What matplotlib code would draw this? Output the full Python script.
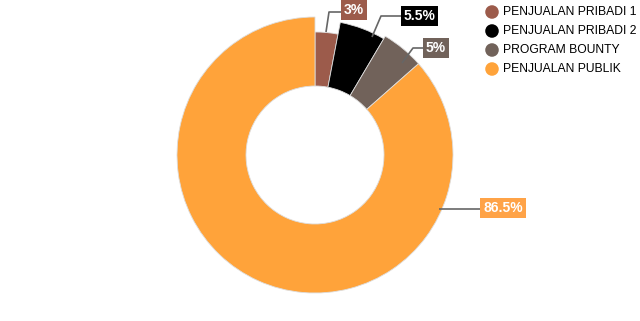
import matplotlib
matplotlib.use("Agg")
import matplotlib.pyplot as plt

plt.rcParams['font.family'] = ['Liberation Sans', 'DejaVu Sans']

categories = ['PENJUALAN PRIBADI 1', 'PENJUALAN PRIBADI 2', 'PROGRAM BOUNTY', 'PENJUALAN PUBLIK']
values = [3, 5.5, 5, 86.5]
labels = ['3%', '5.5%', '5%', '86.5%']
colors = ['#9c5b4b', '#000000', '#71625a', '#ffa33a']
label_colors = ['#9c5b4b', '#000000', '#71625a', '#ffa347']

W, H = 640, 321
def Y(py):
    return H - py

fig = plt.figure(figsize=(6.4, 3.21), dpi=100)
ax = fig.add_axes([0, 0, 1, 1])

cx, cy, R, r_in = 315, Y(155), 138, 69
wedges, _ = ax.pie(values, colors=colors, radius=R, center=(cx, cy),
                   startangle=90, counterclock=False,
                   wedgeprops=dict(width=R - r_in, edgecolor='#dddddd', linewidth=0.6))
# slices drawn with slightly different outer radius, as in the original
outer = [123, 135, 138, 138]
for w, ro in zip(wedges, outer):
    w.set_radius(ro)
    w.set_width(ro - r_in)

ax.set_xlim(0, W)
ax.set_ylim(0, H)
ax.set_aspect('equal')
ax.axis('off')

# leader lines: (start, elbow, end) and label centres
leaders = [
    [(326, 32), (329, 12), (343, 12)],
    [(372, 37), (381, 16), (403, 16)],
    [(402, 63), (413, 48), (425, 48)],
    [(439, 209), (461, 209), (483, 209)],
]
label_pos = [(354, 10), (419.5, 16), (436, 48), (503, 208)]

for pts, lp, txt, c in zip(leaders, label_pos, labels, label_colors):
    xs = [p[0] for p in pts]
    ys = [Y(p[1]) for p in pts]
    ax.plot(xs, ys, color='#666666', lw=1.2, solid_capstyle='butt')
    ax.text(lp[0], Y(lp[1]), txt, color='white', fontsize=10, fontweight='bold',
            ha='center', va='center',
            bbox=dict(boxstyle='square,pad=0.2', fc=c, ec='none'))

# legend
leg_y = [12, 31, 50, 69]
for yy, name, c in zip(leg_y, categories, colors):
    ax.scatter([492], [Y(yy)], s=95, color=c, edgecolors='none')
    ax.text(503, Y(yy), name, fontsize=8.7, color='black', ha='left', va='center')

fig.savefig('out.png', dpi=100)
